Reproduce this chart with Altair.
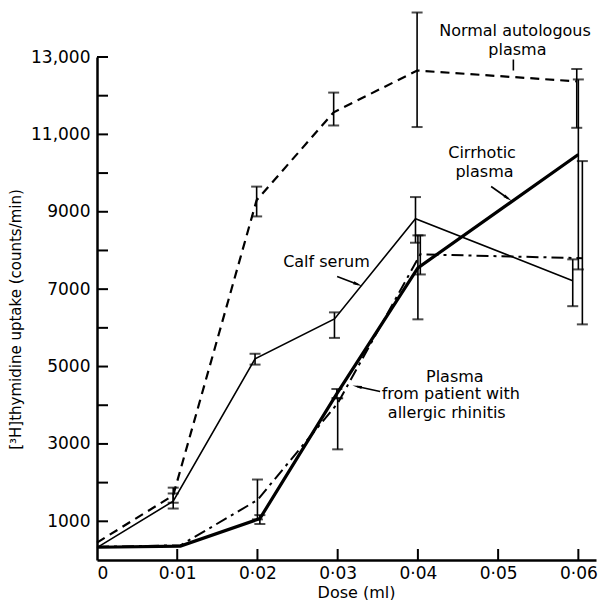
import altair as alt
import pandas as pd

# ---------------- data ----------------
dose_ticks = [0, 0.01, 0.02, 0.03, 0.04, 0.05, 0.06]
count_ticks = [1000, 2000, 3000, 4000, 5000, 6000, 7000, 8000, 9000, 10000, 11000, 12000, 13000]
count_labels = [1000, 3000, 5000, 7000, 9000, 11000, 13000]

normal_x = [0, 0.0095, 0.0199, 0.0295, 0.0399, 0.0598]
normal_y = [450, 1670, 9300, 11570, 12650, 12370]
normal_lo = [None, 1480, 8880, 11230, 11190, 11170]
normal_hi = [None, 1870, 9650, 12080, 14150, 12690]

calf_x = [0, 0.0095, 0.0197, 0.0296, 0.0397, 0.0593]
calf_y = [320, 1520, 5200, 6230, 8820, 7220]
calf_lo = [None, 1330, 5050, 5740, 8200, 6560]
calf_hi = [None, 1720, 5330, 6400, 9380, 7770]

cirr_x = [0, 0.0104, 0.0203, 0.0299, 0.0400, 0.0600]
cirr_y = [330, 360, 1070, 4300, 7550, 10480]
cirr_lo = [None, None, 930, 4180, 6220, 7510]
cirr_hi = [None, None, 1160, 4420, 8390, 12420]

allerg_x = [0, 0.0104, 0.0200, 0.0300, 0.0403, 0.0605]
allerg_y = [340, 380, 1550, 4050, 7900, 7800]
allerg_lo = [None, None, 1050, 2860, 7380, 6090]
allerg_hi = [None, None, 2080, 4180, 8390, 10310]

# annotation texts (dose, counts of the text centre)
notes = [
    ("Normal autologous", 0.0521, 13670),
    ("plasma", 0.0524, 13190),
    ("Cirrhotic", 0.0480, 10530),
    ("plasma", 0.0483, 10040),
    ("Calf serum", 0.0286, 7690),
    ("Plasma", 0.0446, 4740),
    ("from patient with", 0.0441, 4280),
    ("allergic rhinitis", 0.0436, 3810),
]
# leader lines / arrows: start (dose, counts) -> end (dose, counts)
leaders = [
    (0.0519, 12935, 0.0519, 12651, None),
    (0.04913, 9653, 0.05125, 9343, 35),
    (0.02993, 7327, 0.03254, 7121, 21),
    (0.03529, 4355, 0.03242, 4484, 192),
]

# ---------------- chart ----------------
W, H = 499, 503
FONT = "DejaVu Sans"

xs = alt.Scale(domain=[0, 0.0622], nice=False, zero=False)
ys = alt.Scale(domain=[0, 13000], nice=False, zero=False)

xaxis = alt.Axis(
    values=dose_ticks, ticks=False, grid=False, domainColor="black", domainWidth=2.5,
    labelExpr="datum.value == 0 ? '0' : replace(format(datum.value, '.2f'), '.', '·')",
    labelFont=FONT, labelFontSize=17, labelColor="black", labelPadding=5,
    title="Dose (ml)", titleFont=FONT, titleFontSize=16, titleFontWeight="normal",
    titleColor="black", titleX=259, titleY=32, titleBaseline="middle", titleAlign="center",
)
yaxis = alt.Axis(
    values=count_labels, ticks=False, grid=False, domainColor="black", domainWidth=2.5,
    labelExpr="datum.value >= 10000 ? format(datum.value, ',') : format(datum.value, 'd')",
    labelFont=FONT, labelFontSize=17, labelColor="black", labelPadding=7,
    title="[³H]thymidine uptake (counts/min)", titleFont=FONT, titleFontSize=15,
    titleFontWeight="normal", titleColor="black", titleX=-82, titleY=262,
    titleAngle=270, titleBaseline="middle", titleAlign="center",
)


def X(field):
    return alt.X(f"{field}:Q", scale=xs, axis=xaxis)


def Y(field):
    return alt.Y(f"{field}:Q", scale=ys, axis=yaxis)


styles = {
    "normal": dict(strokeDash=[9, 6], strokeWidth=2.2),
    "calf": dict(strokeWidth=1.6),
    "cirr": dict(strokeWidth=3.2),
    "allerg": dict(strokeDash=[12, 5, 3, 5], strokeWidth=2.0),
}
series = {
    "normal": (normal_x, normal_y, normal_lo, normal_hi),
    "calf": (calf_x, calf_y, calf_lo, calf_hi),
    "cirr": (cirr_x, cirr_y, cirr_lo, cirr_hi),
    "allerg": (allerg_x, allerg_y, allerg_lo, allerg_hi),
}

layers = []

# inward axis ticks
ytick_df = pd.DataFrame({"v": count_ticks})
layers.append(
    alt.Chart(ytick_df).mark_rule(color="black", strokeWidth=2).encode(
        y=Y("v"), x=alt.value(0), x2=alt.value(11)
    )
)
xtick_df = pd.DataFrame({"t": dose_ticks[1:]})
layers.append(
    alt.Chart(xtick_df).mark_rule(color="black", strokeWidth=2).encode(
        x=X("t"), y=alt.value(H), y2=alt.value(H - 11)
    )
)

for key, (sx, sy, slo, shi) in series.items():
    df = pd.DataFrame({"x": sx, "y": sy, "lo": slo, "hi": shi})
    layers.append(
        alt.Chart(df).mark_line(color="black", **styles[key]).encode(x=X("x"), y=Y("y"))
    )
    eb = df.dropna()
    layers.append(
        alt.Chart(eb).mark_rule(color="black", strokeWidth=1.6).encode(
            x=X("x"), y=Y("lo"), y2="hi"
        )
    )
    for f in ("lo", "hi"):
        layers.append(
            alt.Chart(eb).mark_tick(color="black", orient="horizontal", size=11, thickness=2).encode(
                x=X("x"), y=Y(f)
            )
        )

notes_df = pd.DataFrame(notes, columns=["label", "x", "y"])
layers.append(
    alt.Chart(notes_df).mark_text(font=FONT, fontSize=16, color="black", align="center",
                                  baseline="middle").encode(x=X("x"), y=Y("y"), text="label:N")
)

lead_df = pd.DataFrame(leaders, columns=["x", "y", "x2", "y2", "ang"])
layers.append(
    alt.Chart(lead_df).mark_rule(color="black", strokeWidth=1.6).encode(
        x=X("x"), y=Y("y"), x2="x2", y2="y2"
    )
)
heads = lead_df.dropna()
layers.append(
    alt.Chart(heads).mark_point(
        shape="M-1,-0.32L1,0L-1,0.32Z", filled=True, color="black", opacity=1, size=90
    ).encode(x=X("x2"), y=Y("y2"), angle=alt.Angle("ang:Q", scale=None))
)

chart = alt.layer(*layers).properties(
    width=W, height=H,
    autosize=alt.AutoSizeParams(type="none"),
    padding={"left": 97, "top": 57, "right": 7, "bottom": 40},
    background="white",
).configure_view(stroke=None)

chart.save("out.html", embed_options={"renderer": "svg", "actions": False})
